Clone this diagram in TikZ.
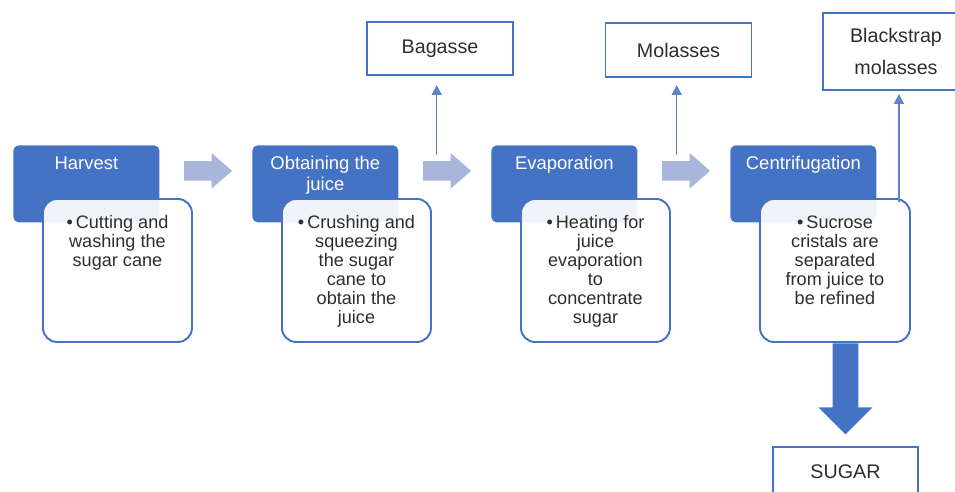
\documentclass[tikz,border=0pt]{standalone}
\usepackage{fontspec}
\setmainfont{Liberation Sans}
\usepackage{xcolor}
\usetikzlibrary{calc,positioning,arrows.meta,shapes.arrows}
\definecolor{stageBlue}{RGB}{68,114,196}
\definecolor{flowGrey}{RGB}{168,182,220}
\definecolor{linkBlue}{RGB}{96,130,200}
\definecolor{inkGrey}{RGB}{45,45,45}

\begin{document}
\begin{tikzpicture}[
  stage/.style={rounded corners=3pt,fill=stageBlue,text=white,inner xsep=0.06cm,inner ysep=0.186cm,anchor=north west,font=\fontsize{10.5}{11.9}\selectfont},
  detail/.style={rounded corners=8pt,draw=stageBlue,line width=1.1pt,fill=white,fill opacity=0.92,text opacity=1,text=inkGrey,inner xsep=0.1cm,inner ysep=0.33cm,anchor=north west,font=\fontsize{10.3}{10.8}\selectfont},
  flow/.style={single arrow,fill=flowGrey,draw=none,anchor=tail,minimum height=0.96cm,inner sep=0pt,inner ysep=0.19cm,single arrow head extend=0.16cm,single arrow tip angle=82},
  product/.style={draw=stageBlue,line width=1.1pt,text=inkGrey,minimum width=2.92cm,align=center,font=\fontsize{11.2}{18.7}\selectfont},
  link/.style={linkBlue,line width=0.8pt,-{Triangle[length=0.2cm,width=0.2cm]}}
]
\useasboundingbox (0,0) rectangle (19.1,-9.84);

% stages
\node[stage] (harvest) at (0.26,-2.9) {\parbox[t][1.168cm][t]{2.8cm}{\centering\strut Harvest}};
\node[stage,right=1.846cm of harvest] (juicing) {\parbox[t][1.168cm][t]{2.8cm}{\centering\strut Obtaining the\\juice}};
\node[stage,right=1.846cm of juicing] (evaporation) {\parbox[t][1.168cm][t]{2.8cm}{\centering\strut Evaporation}};
\node[stage,right=1.846cm of evaporation] (centrifuge) {\parbox[t][1.168cm][t]{2.8cm}{\centering\strut Centrifugation}};

% details
\node[detail] (harvestTxt) at ($(harvest.north west)+(0.58,-1.06)$) {\parbox[t][2.2cm][t]{2.78cm}{\centering\strut\textbullet\,Cutting and\\washing the\\sugar cane}};
\node[detail] (juicingTxt) at ($(juicing.north west)+(0.58,-1.06)$) {\parbox[t][2.2cm][t]{2.78cm}{\centering\strut\textbullet\,Crushing and\\squeezing\\the sugar\\cane to\\obtain the\\juice}};
\node[detail] (evaporationTxt) at ($(evaporation.north west)+(0.58,-1.06)$) {\parbox[t][2.2cm][t]{2.78cm}{\centering\strut\textbullet\,Heating for\\juice\\evaporation\\to\\concentrate\\sugar}};
\node[detail] (centrifugeTxt) at ($(centrifuge.north west)+(0.58,-1.06)$) {\parbox[t][2.2cm][t]{2.8cm}{\centering\strut\textbullet\,Sucrose\\cristals are\\separated\\from juice to\\be refined}};

% flow arrows
\node[flow] (flowA) at ($(harvest.east)+(0.48,0.26)$) {};
\node[flow] (flowB) at ($(juicing.east)+(0.48,0.26)$) {};
\node[flow] (flowC) at ($(evaporation.east)+(0.48,0.26)$) {};

% by-products
\node[product,minimum height=1.06cm] (bagasse) at (8.8,-0.97) {Bagasse};
\node[product,minimum height=1.08cm] (molasses) at (13.57,-1.0) {Molasses};
\node[product,minimum height=1.54cm] (blackstrap) at (17.92,-1.03) {Blackstrap\\molasses};

\coordinate (bagFoot) at ($(flowB.tail)+(0.28,0.31)$);
\coordinate (molFoot) at ($(flowC.tail)+(0.3,0.31)$);
\coordinate (strapFoot) at ($(centrifugeTxt.north east)+(-0.24,-0.08)$);
\draw[link,shorten >=0.18cm] (bagFoot) -- (bagFoot |- bagasse.south);
\draw[link,shorten >=0.14cm] (molFoot) -- (molFoot |- molasses.south);
\draw[link,shorten >=0.06cm] (strapFoot) -- (strapFoot |- blackstrap.south);

% sugar
\node[flow,fill=stageBlue,rotate=-90,minimum height=1.82cm,inner ysep=0.25cm,single arrow head extend=0.28cm,single arrow tip angle=90] (sugarArrow) at ($(centrifugeTxt.south)+(0.21,0)$) {};
\node[product,minimum width=2.9cm,minimum height=1.0cm,below=0.22cm of sugarArrow.tip] (sugar) {SUGAR};
\end{tikzpicture}
\end{document}
